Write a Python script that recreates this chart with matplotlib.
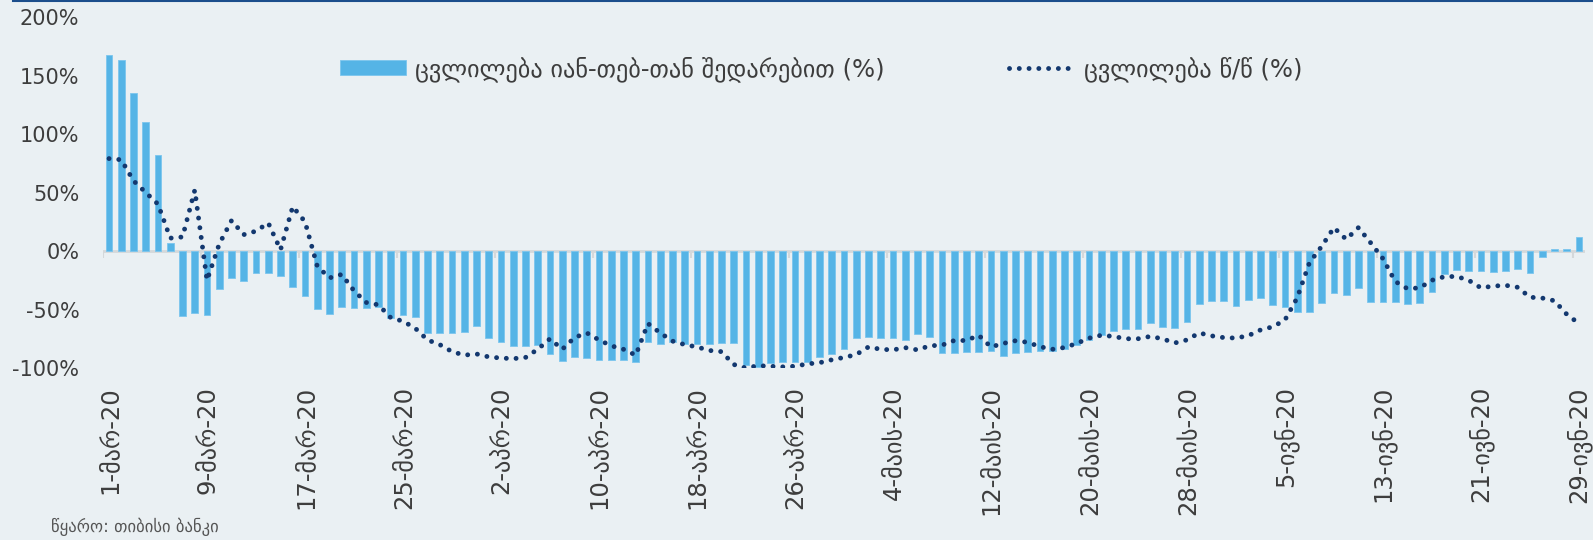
import numpy as np
import pandas as pd
import matplotlib
matplotlib.use('Agg')
import matplotlib.pyplot as plt
from matplotlib.lines import Line2D

# daily values, 1 Mar 2020 - 29 Jun 2020
vs_janfeb = [167.5, 163, 135, 110.5, 82, 6.6, -55.6, -52.7, -54.7, -32.8,
             -22.8, -26, -18.5, -18.5, -21.4, -30.5, -38.5, -49.9, -53.8, -48,
             -49, -49, -48, -57.5, -54.7, -56.7, -69.8, -70.4, -70.4, -69.2,
             -64.1, -74.6, -77.8, -81.2, -81.2, -80.3, -88, -94, -90.3, -91.7,
             -93.2, -93.2, -93.2, -94.9, -77.5, -79.8, -78, -79.8, -79.5, -79.5,
             -78.9, -78.9, -97.4, -98.9, -96, -94.9, -94.9, -94.9, -90.3, -88,
             -84, -74.1, -73.8, -74.1, -74.1, -76, -70.7, -73.8, -86.9, -86.9,
             -86.6, -86.6, -85.2, -90, -87, -86.6, -85.5, -85.5, -83.8, -80.3,
             -76, -71.8, -68.1, -66.9, -66.7, -61.8, -65.2, -66.1, -60.4, -45.6,
             -42.7, -42.7, -46.7, -41.9, -39.9, -46.2, -47.6, -52.4, -52.4, -44.7,
             -36.2, -37.3, -31.6, -43.6, -43.6, -43.6, -45.3, -44.2, -34.8, -19.7,
             -16.2, -17.1, -17.4, -17.7, -16.8, -15.7, -18.5, -4.8, 1.5, 1.5,
             11.7]

yoy = [79, 78, 60, 50, 40, 11, 12, 52, -25, 6,
       26, 14, 17, 24, 1, 38, 25, -13, -23, -20,
       -34, -44, -46, -57, -60, -66, -76, -80, -86, -89,
       -88, -90.5, -91.5, -92, -91, -84, -75, -84, -74, -70,
       -76, -81, -84, -89, -62, -70, -77, -80, -82, -85,
       -86, -97, -100, -98, -98.5, -99, -98.5, -96.5, -95.5, -93,
       -91, -88.5, -82, -84, -84.5, -82.6, -84.5, -81, -80.5, -76.5,
       -76.5, -72, -82, -79, -76.7, -78, -81.8, -84, -82.5, -79,
       -74.5, -72, -73, -75, -75, -73, -75, -78.6, -76, -70,
       -72.5, -74, -74.4, -72.4, -67.5, -64.8, -59, -40, -10, 4,
       20, 10, 20, 7, -6.5, -26, -32.2, -31.5, -25, -22,
       -21.7, -25, -31.5, -30, -29.3, -31, -39.5, -40.2, -42.5, -54,
       -62]

months_ka = {3: 'მარ', 4: 'აპრ', 5: 'მაის', 6: 'ივნ'}
dates = pd.date_range('2020-03-01', '2020-06-29', freq='D')
labels = ['%d-%s-20' % (d.day, months_ka[d.month]) for d in dates]

legend_bar = 'ცვლილება იან-თებ-თან შედარებით (%)'
legend_line = 'ცვლილება წ/წ (%)'
source = 'წყარო: თიბისი ბანკი'

bg = '#eaf0f3'
bar_color = '#55b4e6'
line_color = '#13386f'
text_color = '#3d3d3d'

plt.rcParams['font.family'] = ['DejaVu Sans']

fig = plt.figure(figsize=(15.93, 5.40), dpi=100, facecolor=bg)
ax = fig.add_axes([0.0646, 0.3185, 0.9304, 0.6500], facecolor=bg)

x = np.arange(len(dates))
bars = ax.bar(x, vs_janfeb, width=0.55, color=bar_color, edgecolor='#7cc6ee',
              linewidth=0.6, label=legend_bar, zorder=2)
line, = ax.plot(x, yoy, color=line_color, lw=3.5, linestyle=(0, (0.01, 2.0)),
                dash_capstyle='round', label=legend_line, zorder=3)

# zero line with small category ticks
ax.axhline(0, color='#d4d8da', lw=2, zorder=1)
tick_pos = np.arange(-0.5, len(dates), 8)
ax.vlines(tick_pos, -6, 0, color='#d4d8da', lw=1.5, zorder=1)

ax.set_xlim(-0.5, len(dates) - 0.5)
ax.set_ylim(-100, 200)
ax.set_yticks(np.arange(-100, 201, 50))
ax.set_yticklabels(['%d%%' % v for v in np.arange(-100, 201, 50)])

lab_idx = np.arange(0, len(dates), 8)
ax.set_xticks(lab_idx)
ax.set_xticklabels([labels[i] for i in lab_idx], rotation=90)

ax.tick_params(axis='y', length=0, pad=17, labelsize=15, labelcolor=text_color)
ax.tick_params(axis='x', length=0, pad=13, labelsize=17.5, labelcolor=text_color)
for s in ax.spines.values():
    s.set_visible(False)

leg = fig.legend([bars, line], [legend_bar, legend_line], loc='center left',
                 bbox_to_anchor=(340 / 1593, 1 - 69 / 540), ncol=2,
                 frameon=False, fontsize=17.5, handlelength=2.7, handleheight=0.55,
                 columnspacing=5.1, handletextpad=0.4, borderpad=0,
                 borderaxespad=0, labelcolor=text_color)

fig.text(0.032, 1 - 527 / 540, source, fontsize=12, color='#555555', va='center')
fig.add_artist(Line2D([0.008, 1], [0.998, 0.998], color='#1c4e8c', lw=1.5))

fig.savefig('out.png', dpi=100, facecolor=bg)
